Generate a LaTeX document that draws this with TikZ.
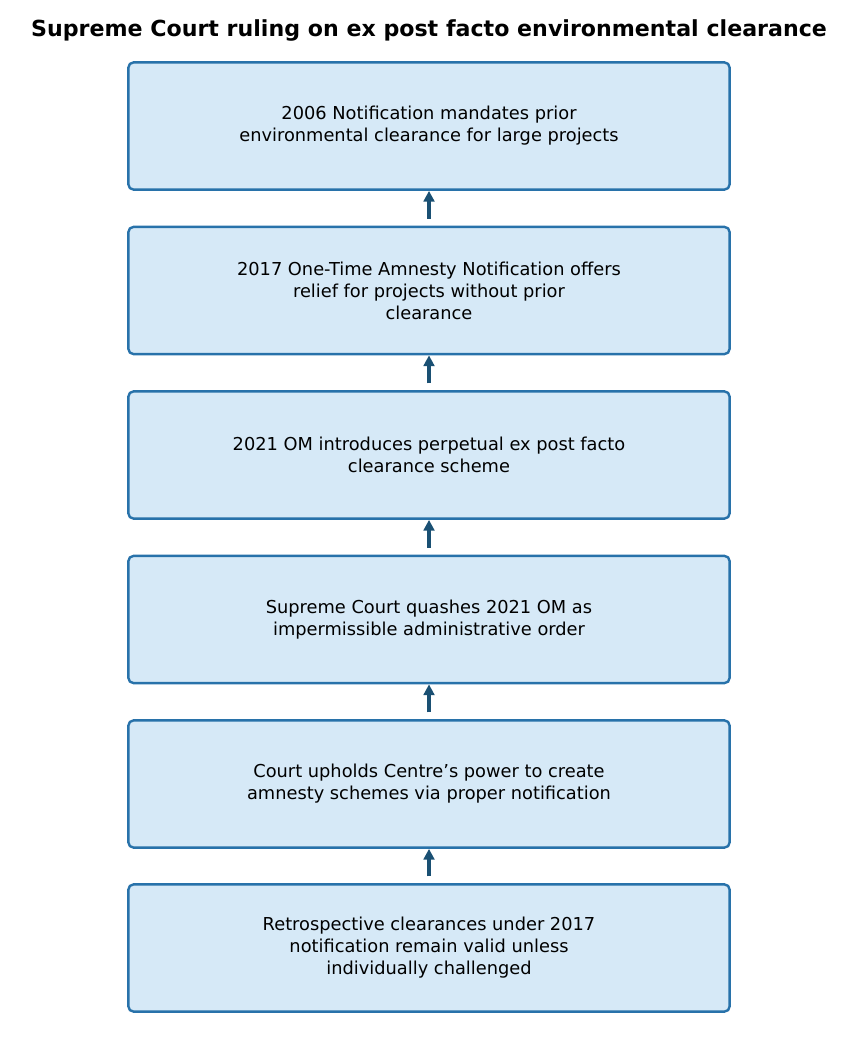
\documentclass[tikz,border=0pt]{standalone}
\usepackage{fontspec}
\setmainfont{DejaVu Sans}
\usetikzlibrary{arrows.meta,positioning}

\definecolor{boxfill}{RGB}{214,233,247}
\definecolor{boxline}{RGB}{40,114,170}
\definecolor{arrowcol}{RGB}{26,80,115}

\begin{document}
\begin{tikzpicture}[x=0.75pt,y=-0.75pt,
  stage/.style={draw=boxline,fill=boxfill,line width=1.8pt,rounded corners=4pt,
    minimum width=451pt,minimum height=95.5pt,align=center,
    font=\fontsize{13.35}{16.5}\selectfont},
  link/.style={-{Triangle[length=8pt,width=8pt]},line width=2.3pt,draw=arrowcol,shorten <=5pt}]
\useasboundingbox (0,0) rectangle (858,1053);
\node[font=\fontsize{16.6}{19}\selectfont\bfseries] (title) at (429,30) {Supreme Court ruling on ex post facto environmental clearance};
\node[stage] (s1) at (429,126) {2006 Notification mandates prior\\environmental clearance for large projects};
\node[stage] (s2) at (429,290.5) {2017 One-Time Amnesty Notification offers\\relief for projects without prior\\clearance};
\node[stage] (s3) at (429,455) {2021 OM introduces perpetual ex post facto\\clearance scheme};
\node[stage] (s4) at (429,619.5) {Supreme Court quashes 2021 OM as\\impermissible administrative order};
\node[stage] (s5) at (429,784) {Court upholds Centre’s power to create\\amnesty schemes via proper notification};
\node[stage] (s6) at (429,948) {Retrospective clearances under 2017\\notification remain valid unless\\individually challenged};
\draw[link] (s2) -- (s1);
\draw[link] (s3) -- (s2);
\draw[link] (s4) -- (s3);
\draw[link] (s5) -- (s4);
\draw[link] (s6) -- (s5);
\end{tikzpicture}
\end{document}
